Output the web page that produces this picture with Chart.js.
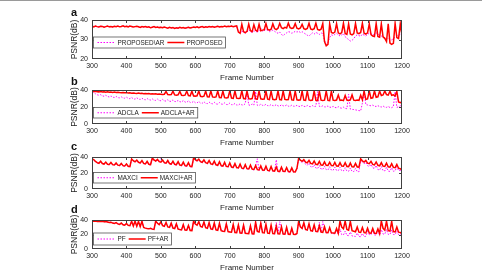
<!DOCTYPE html>
<html>
<head>
<meta charset="utf-8">
<script src="https://cdn.jsdelivr.net/npm/chart.js@4.4.1/dist/chart.umd.min.js"></script>
<style>
  html, body { margin: 0; padding: 0; background: #fff; }
  body { width: 482px; height: 273px; position: relative; overflow: hidden; }
  .frame { position: absolute; left: 0; top: 0; width: 482px; height: 1px; background: #9a9a9a; }
  canvas { position: absolute; left: 0; }
</style>
</head>
<body>
<div class="frame"></div>
<script>
const frames = []
for (let f = 300; f <= 1200; f += 5) frames.push(f)

const psnrTicksA = [20, 30, 40]
const psnrTicks = [0, 20, 40]

// a : PROPOSED\AR (dotted) and PROPOSED (solid)
const proposedNoAr = [
  36.8,36.5,36.9,36.6,36.4,36.8,36.7,36.3,36.6,36.9,36.5,36.7,36.4,36.8,36.6,36.9,36.5,36.7,37.0,36.6,
  36.8,36.5,36.9,36.7,36.4,36.6,36.8,36.5,36.2,36.6,36.4,36.7,36.3,36.5,36.0,36.3,36.6,36.2,36.4,36.1,
  36.3,36.0,36.4,36.1,35.8,36.2,35.9,36.1,35.7,36.0,35.8,36.2,35.9,36.1,35.8,36.0,36.3,35.9,36.1,36.4,
  36.2,36.5,36.1,36.4,36.6,36.2,36.5,36.3,36.7,36.4,36.6,36.3,36.5,36.8,36.4,36.7,36.5,36.9,36.6,36.8,
  36.6,36.8,36.5,36.7,36.8,34.0,33.0,34.5,33.6,33.2,33.8,35.0,34.0,33.6,34.4,34.2,33.8,34.5,35.8,34.2,
  34.5,35.2,34.6,34.0,34.4,34.8,34.2,33.6,33.2,33.8,32.6,32.0,32.8,33.4,34.0,33.8,33.2,33.6,34.2,33.8,
  34.2,33.6,34.0,33.4,32.8,32.2,31.8,32.6,33.4,32.8,33.6,33.2,32.6,33.4,33.0,29.5,27.5,28.5,31.0,32.4,
  32.0,32.6,33.2,32.4,31.8,32.4,33.0,31.4,30.8,29.8,29.2,29.6,30.4,31.8,32.4,32.0,31.6,32.8,32.2,31.8,
  32.6,33.2,33.0,32.4,32.8,33.4,32.8,32.2,31.8,31.4,30.8,30.2,30.6,30.0,29.8,30.4,31.2,31.8,32.2,32.6,
  32.8
]
const proposed = [
  36.8,36.5,36.9,36.6,36.4,36.8,36.7,36.3,36.6,36.9,36.5,36.7,36.4,36.8,36.6,36.9,36.5,36.7,37.0,36.6,
  36.8,36.5,36.9,36.7,36.4,36.6,36.8,36.5,36.2,36.6,36.4,36.7,36.3,36.5,36.0,36.3,36.6,36.2,36.4,36.1,
  36.3,36.0,36.4,36.1,35.8,36.2,35.9,36.1,35.7,36.0,35.8,36.2,35.9,36.1,35.8,36.0,36.3,35.9,36.1,36.4,
  36.2,36.5,36.1,36.4,36.6,36.2,36.5,36.3,36.7,36.4,36.6,36.3,36.5,36.8,36.4,36.7,36.5,36.9,36.6,36.8,
  36.7,36.9,36.6,36.8,37.0,33.8,33.2,37.8,34.0,33.5,34.2,37.9,34.5,34.0,37.6,34.8,34.3,37.8,34.5,34.8,
  35.0,38.2,35.2,34.8,35.3,38.0,35.6,35.1,35.8,38.3,36.0,35.6,36.2,35.9,38.4,36.1,35.7,36.0,38.2,35.8,
  35.4,35.9,37.8,35.6,35.2,35.7,38.3,35.4,35.0,35.5,38.4,35.2,34.8,35.3,38.2,29.0,26.8,27.5,38.0,33.6,
  33.2,33.8,38.1,33.4,32.9,33.5,38.3,33.1,32.6,38.0,32.8,32.4,33.0,38.2,33.4,33.0,33.6,38.3,33.2,32.8,
  33.4,38.0,32.5,31.8,31.5,38.2,31.6,31.2,38.0,31.4,30.6,29.0,38.1,28.2,27.5,28.0,38.2,31.0,30.5,38.0,
  32.0
]

// b : ADCLA and ADCLA+AR
const adcla = [
  37.8,37.0,35.6,34.4,33.8,34.5,33.2,32.6,33.9,32.4,31.8,33.0,31.6,31.2,32.5,31.0,30.8,32.0,30.6,30.4,
  31.6,30.2,29.8,31.2,29.6,29.2,30.8,29.4,28.9,30.4,28.8,28.5,30.0,28.6,28.2,29.6,28.0,27.8,29.4,27.6,
  27.4,29.0,27.2,27.0,28.6,26.8,26.6,28.4,26.5,26.3,27.8,26.2,25.9,27.6,25.8,25.5,27.2,25.4,25.2,26.8,
  25.0,24.8,26.5,24.6,24.4,26.2,24.2,24.0,25.8,24.1,23.8,25.5,23.6,23.4,25.2,23.5,23.2,24.8,23.0,22.8,
  24.6,22.8,22.6,24.2,22.4,22.2,23.8,22.5,22.2,24.0,38.0,22.4,22.0,23.6,22.2,38.2,22.0,21.8,23.4,22.0,
  21.8,23.2,21.6,21.4,23.0,21.6,21.4,22.8,21.2,21.0,22.6,21.4,21.2,22.4,21.0,20.8,22.2,21.0,20.8,22.0,
  20.8,20.6,22.0,20.8,20.5,21.8,20.6,20.4,21.6,20.4,21.0,38.0,20.8,20.4,21.4,20.2,20.0,21.2,19.8,19.6,
  20.8,19.4,19.2,20.4,19.0,18.6,19.8,18.4,18.0,35.0,17.6,17.2,17.0,16.6,16.2,15.8,15.4,24.5,38.2,22.8,
  22.4,21.8,21.4,22.2,21.0,20.6,21.6,20.4,20.0,21.2,19.8,19.6,20.6,19.4,19.2,20.4,38.0,19.6,20.2,21.4,
  21.6
]
const adclaAr = [
  38.5,38.2,38.4,38.0,37.8,38.1,37.7,37.9,37.5,37.8,37.4,37.6,37.2,37.5,37.1,37.3,37.0,36.8,37.1,36.7,
  36.9,36.5,36.7,36.3,36.6,36.2,36.0,36.4,35.9,36.1,35.7,35.9,35.5,35.8,35.4,35.6,35.2,35.5,35.0,35.3,
  35.1,34.8,35.0,38.2,34.6,34.3,34.7,38.5,34.2,33.9,34.3,38.4,33.8,33.5,33.9,38.6,33.4,33.1,38.5,33.0,
  32.8,33.2,38.7,32.6,32.2,32.7,38.6,32.1,31.8,38.8,31.9,31.4,31.8,38.7,31.2,30.9,38.6,31.0,30.6,31.1,
  38.8,30.5,30.2,38.7,30.4,30.0,30.3,38.9,29.9,29.6,38.8,29.8,29.4,29.9,38.9,29.5,29.2,38.7,29.6,29.1,
  29.4,38.8,29.2,28.8,38.6,29.0,28.6,29.1,38.9,28.7,28.4,38.8,28.9,28.5,28.8,38.7,28.3,28.0,38.6,28.4,
  28.1,28.5,38.8,28.2,27.9,38.7,28.3,27.8,28.2,38.9,27.9,27.5,38.6,28.0,27.6,28.1,38.8,27.7,27.4,38.5,
  28.0,27.6,28.2,34.0,27.8,28.3,27.5,33.5,28.1,27.8,28.4,34.2,28.0,27.6,28.2,27.8,33.8,28.4,38.6,29.0,
  29.5,38.8,30.2,30.8,38.9,31.5,32.0,38.7,33.5,34.2,38.8,34.6,34.0,38.5,33.8,34.4,33.0,38.2,26.0,25.0,
  26.0
]

// c : MAXCI and MAXCI+AR
const maxci = [
  37.8,36.4,34.0,32.6,31.8,34.2,31.4,30.8,33.0,30.6,30.2,32.6,30.0,29.6,32.0,29.4,29.0,31.4,28.8,28.4,
  30.6,28.0,27.6,36.8,34.8,33.4,35.6,32.8,32.0,34.8,31.4,30.8,34.0,30.4,30.0,37.8,35.8,34.4,36.4,33.6,
  38.0,35.6,32.4,31.8,35.0,31.2,30.6,34.2,30.2,29.8,33.6,29.4,29.0,33.0,28.6,28.2,32.2,27.8,27.4,38.2,
  36.2,34.6,36.8,33.6,32.8,35.8,32.2,31.4,35.0,30.8,30.2,34.2,29.6,29.0,33.4,28.6,28.0,32.6,27.6,27.2,
  32.0,26.8,26.4,31.2,26.2,25.8,30.6,25.4,25.0,29.8,24.8,24.4,29.2,24.2,23.8,28.6,37.8,23.2,28.2,23.0,
  22.8,27.8,22.6,22.2,27.4,22.0,21.8,36.5,21.6,21.4,26.6,21.4,21.2,26.2,21.2,21.0,25.8,21.0,20.8,25.2,
  38.0,35.0,33.0,34.8,31.0,29.6,32.4,28.0,27.0,30.6,26.2,25.6,29.4,25.0,24.6,28.4,24.2,23.8,27.8,23.6,
  23.4,27.4,23.2,23.0,27.0,22.8,22.6,26.6,22.4,22.2,26.2,22.0,21.8,25.8,21.8,21.6,36.8,33.6,31.4,33.2,
  29.2,28.0,30.8,26.6,25.6,29.4,24.4,23.6,28.0,23.0,22.6,27.2,22.4,22.0,26.6,22.2,22.6,28.0,23.0,23.2,
  23.4
]
const maxciAr = [
  37.5,36.8,34.5,33.0,32.2,34.8,31.8,31.2,33.6,31.0,30.6,33.2,30.4,30.0,32.6,29.8,29.4,32.0,29.2,28.8,
  31.2,28.4,28.0,37.6,35.4,34.0,36.2,33.4,32.6,35.4,32.0,31.4,34.6,31.0,30.6,38.6,36.4,35.0,37.0,34.2,
  33.6,36.2,33.0,32.4,35.6,31.8,31.2,34.8,30.8,30.4,34.2,30.0,29.6,33.6,29.2,28.8,32.8,28.4,28.0,38.8,
  36.8,35.2,37.4,34.2,33.4,36.4,32.8,32.0,35.6,31.4,30.8,34.8,30.2,29.6,34.0,29.2,28.6,33.2,28.2,27.8,
  32.6,27.4,27.0,31.8,26.8,26.4,31.2,26.0,25.6,30.4,25.4,25.0,29.8,24.8,24.4,29.2,24.2,23.8,28.8,23.6,
  23.4,28.4,23.2,22.8,28.0,22.6,22.4,27.6,22.2,22.0,27.2,22.0,21.8,26.8,21.8,21.6,26.4,21.6,21.4,25.8,
  38.6,36.0,34.6,36.8,33.6,32.8,35.8,32.0,31.4,35.0,30.8,30.4,34.4,30.0,29.8,33.8,29.6,29.4,33.4,29.2,
  29.0,33.2,28.8,28.6,33.0,28.6,28.4,32.8,28.2,28.0,32.4,27.8,27.6,32.0,27.6,27.4,37.6,35.2,33.6,35.8,
  32.4,31.6,34.6,30.8,30.2,33.8,29.6,29.0,33.0,28.6,28.2,32.4,27.8,27.4,31.6,27.0,26.6,30.6,26.0,25.4,
  23.6
]

// d : PF and PF+AR
const pf = [
  38.4,38.2,38.5,38.0,38.3,37.8,38.1,37.5,37.8,37.2,36.6,37.0,35.8,35.2,36.4,34.6,34.0,35.8,33.4,33.0,
  35.2,32.6,32.2,38.2,31.8,38.4,31.4,38.0,30.8,38.2,29.6,28.8,28.2,27.8,28.6,27.4,27.0,38.6,35.4,33.6,
  37.4,32.2,31.4,36.6,30.4,29.8,35.6,28.8,28.2,34.8,27.4,26.8,26.4,33.6,26.0,25.8,32.4,25.6,25.4,38.6,
  34.4,32.8,37.6,31.2,30.4,37.2,29.4,28.6,36.4,27.6,27.0,35.8,26.4,25.8,35.2,25.2,24.6,24.2,34.6,24.0,
  23.6,23.2,33.8,22.8,22.4,33.2,22.0,21.8,32.6,21.6,21.4,21.2,31.8,21.0,20.8,36.8,24.2,23.4,35.6,22.6,
  22.0,33.4,21.6,21.2,32.2,21.0,20.8,36.4,20.6,37.6,30.0,20.4,20.2,29.2,20.2,20.0,28.0,20.0,19.8,21.0,
  37.6,29.8,27.6,35.4,26.4,25.6,34.0,24.8,24.2,32.6,23.6,23.2,36.6,22.8,37.8,29.8,22.2,21.8,28.6,21.6,
  21.2,20.8,26.6,20.2,27.4,19.8,19.4,24.6,18.8,18.4,23.4,18.0,17.6,17.4,22.0,17.2,17.0,21.4,17.2,17.6,
  24.2,19.8,19.6,25.4,19.4,19.2,25.0,19.0,26.8,20.6,20.4,27.0,20.2,20.0,26.4,20.0,19.8,24.8,20.0,20.2,
  20.4
]
const pfAr = [
  38.4,38.2,38.5,38.0,38.3,37.8,38.1,37.5,37.8,37.2,36.6,37.0,35.8,35.2,36.4,34.6,34.0,35.8,33.4,33.0,
  35.2,32.6,32.2,38.2,31.8,38.4,31.4,38.0,30.8,38.2,29.6,28.8,28.2,27.8,28.6,27.4,27.0,38.6,35.4,33.6,
  37.4,32.2,31.4,36.6,30.4,29.8,35.6,28.8,28.2,34.8,27.4,26.8,26.4,33.6,26.0,25.8,32.4,25.6,25.4,38.6,
  34.4,32.8,37.6,31.2,30.4,37.2,29.4,28.6,36.4,27.6,27.0,35.8,26.4,25.8,35.2,25.2,24.6,24.2,34.6,24.0,
  23.6,23.2,33.8,22.8,22.4,33.2,22.0,21.8,32.6,21.6,21.4,21.2,31.8,21.0,20.8,36.8,24.2,23.4,35.6,22.6,
  22.2,34.0,21.8,21.4,32.8,21.2,21.0,31.6,20.8,20.6,30.6,20.6,20.4,29.8,20.4,20.2,28.6,20.2,20.0,21.4,
  38.4,30.6,28.4,36.2,27.0,26.2,34.8,25.4,24.8,33.4,24.2,23.8,32.0,23.4,23.0,30.6,22.8,22.4,29.4,22.2,
  22.0,21.8,28.2,21.6,38.6,30.2,28.0,38.4,27.0,26.0,38.2,25.2,24.6,23.8,30.4,23.2,22.8,29.6,22.6,22.2,
  28.8,22.0,21.8,28.2,21.6,21.4,27.6,21.2,38.6,28.6,26.0,38.4,25.2,24.6,38.0,24.0,23.6,30.4,23.2,22.8,
  20.8
]

const FONT = "'Liberation Sans', Arial, sans-serif"
const MAGENTA = '#ff00ff'
const RED = '#ff0000'

const panels = [
  { letter: 'a', top: 20, bottom: 59, letterY: 16, ticks: psnrTicksA, min: 20, max: 40,
    names: ['PROPOSED\\AR', 'PROPOSED'], series: [proposedNoAr, proposed], legend: { bottom: 11, height: 11 } },
  { letter: 'b', top: 90, bottom: 124, letterY: 85, ticks: psnrTicks, min: 0, max: 40,
    names: ['ADCLA', 'ADCLA+AR'], series: [adcla, adclaAr], legend: { bottom: 6, height: 10.5 } },
  { letter: 'c', top: 157, bottom: 189, letterY: 150, ticks: psnrTicks, min: 0, max: 40,
    names: ['MAXCI', 'MAXCI+AR'], series: [maxci, maxciAr], legend: { bottom: 6, height: 10.5 } },
  { letter: 'd', top: 220, bottom: 249, letterY: 213, ticks: psnrTicks, min: 0, max: 40,
    names: ['PF', 'PF+AR'], series: [pf, pfAr], legend: { bottom: 4, height: 12 } },
]

// frame box, inward ticks, panel letter and the boxed legend
const panelDecor = {
  id: 'panelDecor',
  afterDraw(chart, args, opts) {
    const { ctx, chartArea: a, scales: { x, y } } = chart
    ctx.save()
    ctx.strokeStyle = '#404040'
    ctx.lineWidth = 1
    ctx.strokeRect(a.left + 0.5, a.top + 0.5, a.right - a.left - 1, a.bottom - a.top - 1)

    const clampX = v => Math.min(Math.max(v, a.left + 0.5), a.right - 0.5)
    const clampY = v => Math.min(Math.max(v, a.top + 0.5), a.bottom - 0.5)
    ctx.beginPath()
    x.ticks.forEach(t => {
      const px = clampX(Math.round(x.getPixelForValue(t.value)) + 0.5)
      ctx.moveTo(px, a.bottom); ctx.lineTo(px, a.bottom - 3)
      ctx.moveTo(px, a.top); ctx.lineTo(px, a.top + 3)
    })
    y.ticks.forEach(t => {
      const py = clampY(Math.round(y.getPixelForValue(t.value)) + 0.5)
      ctx.moveTo(a.left, py); ctx.lineTo(a.left + 3, py)
      ctx.moveTo(a.right, py); ctx.lineTo(a.right - 3, py)
    })
    ctx.stroke()

    ctx.fillStyle = '#111'
    ctx.font = `bold 11px ${FONT}`
    ctx.textBaseline = 'alphabetic'
    ctx.fillText(opts.letter, 71, opts.letterY)

    // legend
    ctx.font = `6.4px ${FONT}`
    const yb = a.bottom - opts.legendBottom
    const yt = yb - opts.legendHeight
    const yc = (yt + yb) / 2
    const x0 = a.left + 1.5
    let cx = x0 + 4
    const items = chart.data.datasets.map((ds, i) => {
      const len = i === 0 ? 18 : 17
      const it = { ds, x1: cx, x2: cx + len, tx: cx + len + 2 }
      cx = it.tx + ctx.measureText(ds.label).width + 3
      return it
    })
    ctx.fillStyle = '#fff'
    ctx.fillRect(x0, yt, cx - x0, yb - yt)
    ctx.strokeStyle = '#555'
    ctx.lineWidth = 0.8
    ctx.strokeRect(x0, yt, cx - x0, yb - yt)
    items.forEach(it => {
      ctx.beginPath()
      ctx.strokeStyle = it.ds.borderColor
      ctx.lineWidth = it.ds.borderWidth
      ctx.setLineDash(it.ds.borderDash || [])
      ctx.moveTo(it.x1, yc); ctx.lineTo(it.x2, yc)
      ctx.stroke()
      ctx.setLineDash([])
      ctx.fillStyle = '#222'
      ctx.textBaseline = 'middle'
      ctx.fillText(it.ds.label, it.tx, yc + 0.5)
    })
    ctx.restore()
  }
}

panels.forEach(p => {
  const canvasTop = p.top - 20
  const h = (p.bottom - p.top) + 20 + 26 + 1
  const canvas = document.createElement('canvas')
  canvas.width = 482
  canvas.height = h
  canvas.style.top = canvasTop + 'px'
  canvas.style.width = '482px'
  canvas.style.height = h + 'px'
  document.body.appendChild(canvas)

  new Chart(canvas, {
    type: 'line',
    data: {
      labels: frames,
      datasets: [
        { label: p.names[0], data: p.series[0], borderColor: MAGENTA, borderWidth: 1,
          borderDash: [1.5, 1.5], order: 1 },
        { label: p.names[1], data: p.series[1], borderColor: RED, borderWidth: 1.5, order: 0 },
      ]
    },
    options: {
      responsive: false,
      animation: false,
      devicePixelRatio: 1,
      layout: { padding: { left: 70, right: 80, top: 20, bottom: 1 } },
      elements: { point: { radius: 0 }, line: { tension: 0 } },
      plugins: {
        legend: { display: false },
        tooltip: { enabled: false },
        panelDecor: { letter: p.letter, letterY: p.letterY - canvasTop,
          legendBottom: p.legend.bottom, legendHeight: p.legend.height }
      },
      scales: {
        x: {
          type: 'linear', min: 300, max: 1200,
          grid: { display: false, drawTicks: false },
          border: { display: false },
          ticks: { stepSize: 100, autoSkip: false, maxRotation: 0, padding: 3,
            color: '#222', font: { family: FONT, size: 7 },
            callback: v => String(v) },
          title: { display: true, text: 'Frame Number', color: '#222',
            font: { family: FONT, size: 8 }, padding: { top: 0, bottom: 2 } },
          afterFit: s => { s.height = 26 }
        },
        y: {
          min: p.min, max: p.max,
          grid: { display: false, drawTicks: false },
          border: { display: false },
          afterBuildTicks: s => { s.ticks = p.ticks.map(v => ({ value: v })) },
          ticks: { padding: 4, color: '#222', font: { family: FONT, size: 7 } },
          title: { display: true, text: 'PSNR(dB)', color: '#222',
            font: { family: FONT, size: 8.5 }, padding: 0 },
          afterFit: s => { s.width = 22 }
        }
      }
    },
    plugins: [panelDecor]
  })
})
</script>
</body>
</html>
